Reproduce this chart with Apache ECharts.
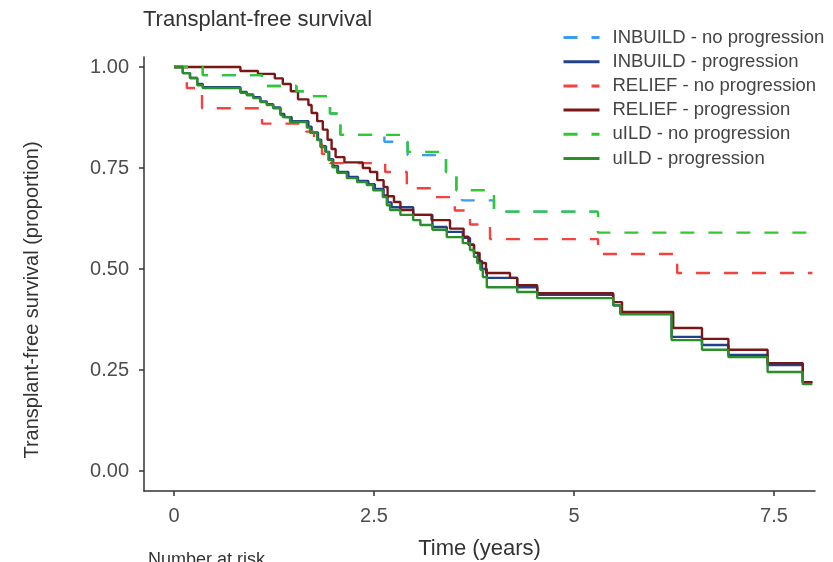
<!DOCTYPE html>
<html>
<head>
<meta charset="utf-8">
<script src="https://cdn.jsdelivr.net/npm/echarts@6/dist/echarts.min.js"></script>
<style>
  html, body { margin: 0; padding: 0; background: #fff; }
  #chart { width: 833px; height: 562px; }
</style>
</head>
<body>
<div id="chart"></div>
<script>
// Kaplan-Meier step curves: [time in years, survival proportion after the event]
const inbuildNoProg = [[0,1],[0.36,0.98],[1.1,0.953],[1.53,0.94],[1.7,0.928],[1.95,0.885],[2.08,0.832],[2.63,0.815],[2.92,0.782],[3.4,0.74],[3.53,0.695],[3.6,0.67],[4.0,0.642],[5.3,0.642]];
const inbuildProg = [[0,1],[0.11,0.985],[0.2,0.973],[0.29,0.958],[0.36,0.95],[0.83,0.938],[0.91,0.932],[0.99,0.925],[1.08,0.915],[1.16,0.908],[1.24,0.9],[1.33,0.884],[1.38,0.876],[1.47,0.866],[1.68,0.852],[1.72,0.838],[1.8,0.82],[1.84,0.804],[1.9,0.79],[1.94,0.772],[1.99,0.755],[2.05,0.74],[2.18,0.728],[2.3,0.718],[2.43,0.71],[2.51,0.698],[2.62,0.682],[2.67,0.665],[2.72,0.653],[2.99,0.634],[3.23,0.604],[3.41,0.592],[3.61,0.577],[3.7,0.56],[3.75,0.54],[3.8,0.52],[3.85,0.5],[3.91,0.478],[4.29,0.455],[4.54,0.436],[5.49,0.41],[5.58,0.39],[6.22,0.332],[6.6,0.312],[6.93,0.287],[7.42,0.262],[7.86,0.22],[7.98,0.22]];
const reliefNoProg = [[0,1],[0.16,0.948],[0.35,0.898],[1.1,0.86],[1.65,0.84],[1.75,0.81],[1.85,0.785],[1.95,0.762],[2.64,0.74],[2.91,0.70],[3.26,0.678],[3.51,0.645],[3.7,0.61],[3.95,0.574],[5.3,0.537],[6.29,0.49],[7.98,0.49]];
const reliefProg = [[0,1],[0.83,0.99],[1.05,0.983],[1.26,0.972],[1.36,0.958],[1.46,0.94],[1.55,0.92],[1.68,0.906],[1.72,0.886],[1.79,0.866],[1.86,0.845],[1.92,0.82],[1.97,0.797],[2.02,0.777],[2.13,0.764],[2.36,0.75],[2.45,0.74],[2.54,0.72],[2.62,0.703],[2.67,0.68],[2.75,0.666],[2.83,0.646],[2.99,0.634],[3.22,0.621],[3.45,0.60],[3.62,0.58],[3.68,0.56],[3.75,0.54],[3.82,0.515],[3.9,0.49],[4.2,0.478],[4.29,0.46],[4.54,0.44],[5.49,0.418],[5.6,0.394],[6.24,0.354],[6.6,0.327],[6.93,0.30],[7.42,0.267],[7.86,0.22],[7.98,0.22]];
const uildNoProg = [[0,1],[0.36,0.98],[1.1,0.953],[1.53,0.94],[1.7,0.928],[1.95,0.885],[2.08,0.832],[2.92,0.79],[3.4,0.74],[3.53,0.695],[4.0,0.642],[5.3,0.59],[7.98,0.59]];
const uildProg = [[0,1],[0.11,0.985],[0.2,0.973],[0.29,0.955],[0.36,0.948],[0.83,0.936],[0.91,0.93],[0.99,0.923],[1.08,0.913],[1.16,0.906],[1.24,0.898],[1.33,0.881],[1.36,0.876],[1.45,0.864],[1.66,0.85],[1.7,0.837],[1.79,0.819],[1.83,0.802],[1.89,0.79],[1.93,0.77],[1.98,0.752],[2.04,0.738],[2.16,0.725],[2.29,0.715],[2.41,0.708],[2.49,0.695],[2.61,0.678],[2.66,0.658],[2.7,0.646],[2.83,0.634],[2.99,0.621],[3.08,0.609],[3.23,0.597],[3.41,0.579],[3.61,0.564],[3.7,0.547],[3.75,0.53],[3.79,0.515],[3.83,0.498],[3.86,0.48],[3.91,0.455],[4.29,0.443],[4.54,0.428],[5.49,0.41],[5.58,0.388],[6.22,0.324],[6.6,0.30],[6.93,0.282],[7.42,0.245],[7.86,0.215],[7.98,0.215]];

const seriesNames = ['INBUILD - no progression','INBUILD - progression','RELIEF - no progression','RELIEF - progression','uILD - no progression','uILD - progression'];
const seriesData = [inbuildNoProg, inbuildProg, reliefNoProg, reliefProg, uildNoProg, uildProg];
const seriesColors = ['#3d9cf0','#22408c','#f4423f','#7a1616','#2fca2f','#2a8e2a'];
const seriesDashed = [true, false, true, false, true, false];

const xTicks = [0, 2.5, 5, 7.5];
const yTicks = [0, 0.25, 0.5, 0.75, 1];

const FONT = '"Liberation Sans", Arial, sans-serif';
const chart = echarts.init(document.getElementById('chart'), null, { renderer: 'canvas' });

chart.setOption({
  animation: false,
  backgroundColor: '#ffffff',
  grid: { left: 144, right: 18, top: 57, bottom: 71, outerBoundsMode: 'none', containLabel: false },
  legend: {
    orient: 'vertical',
    left: 557,
    top: 23,
    itemWidth: 36,
    itemHeight: 14,
    itemGap: 5.2,
    itemStyle: { color: 'transparent', borderWidth: 0, opacity: 0 },
    lineStyle: { width: 3 },
    formatter: name => '{g|}{t|' + name + '}',
    textStyle: {
      rich: {
        g: { width: 8 },
        t: { fontFamily: FONT, fontSize: 18.5, color: '#444', lineHeight: 18 }
      }
    }
  },
  graphic: [
    { type: 'text', left: 143, top: 9,
      style: { text: 'Transplant-free survival', font: '22px ' + FONT, fill: '#333' } },
    { type: 'text', x: 32, y: 300, rotation: Math.PI / 2,
      style: { text: 'Transplant-free survival (proportion)', font: '20px ' + FONT, fill: '#333',
               textAlign: 'center', textVerticalAlign: 'middle' } },
    { type: 'text', left: 148, top: 551,
      style: { text: 'Number at risk', font: '18px ' + FONT, fill: '#333' } }
  ],
  xAxis: {
    type: 'value',
    min: -0.375,
    max: 8.0125,
    name: 'Time (years)',
    nameLocation: 'middle',
    nameGap: 47,
    nameTextStyle: { fontFamily: FONT, fontSize: 22, color: '#333' },
    splitLine: { show: false },
    axisLine: { show: true, onZero: false, lineStyle: { color: '#333', width: 1.5 } },
    axisTick: { show: true, length: 5, customValues: xTicks, lineStyle: { color: '#333', width: 1.5 } },
    axisLabel: { customValues: xTicks, fontFamily: FONT, fontSize: 20, color: '#4d4d4d', margin: 15,
                 formatter: v => String(v) }
  },
  yAxis: {
    type: 'value',
    min: -0.0495,
    max: 1.0248,
    splitLine: { show: false },
    axisLine: { show: true, onZero: false, lineStyle: { color: '#333', width: 1.5 } },
    axisTick: { show: true, length: 5, customValues: yTicks, lineStyle: { color: '#333', width: 1.5 } },
    axisLabel: { customValues: yTicks, fontFamily: FONT, fontSize: 20, color: '#4d4d4d', margin: 15,
                 formatter: v => v.toFixed(2) }
  },
  series: seriesNames.map((name, i) => ({
    name: name,
    type: 'line',
    step: 'end',
    symbol: 'none',
    data: seriesData[i],
    color: seriesColors[i],
    lineStyle: { color: seriesColors[i], width: 2.4, type: seriesDashed[i] ? [14, 14] : 'solid' },
    z: 2 + i
  }))
});
</script>
</body>
</html>
